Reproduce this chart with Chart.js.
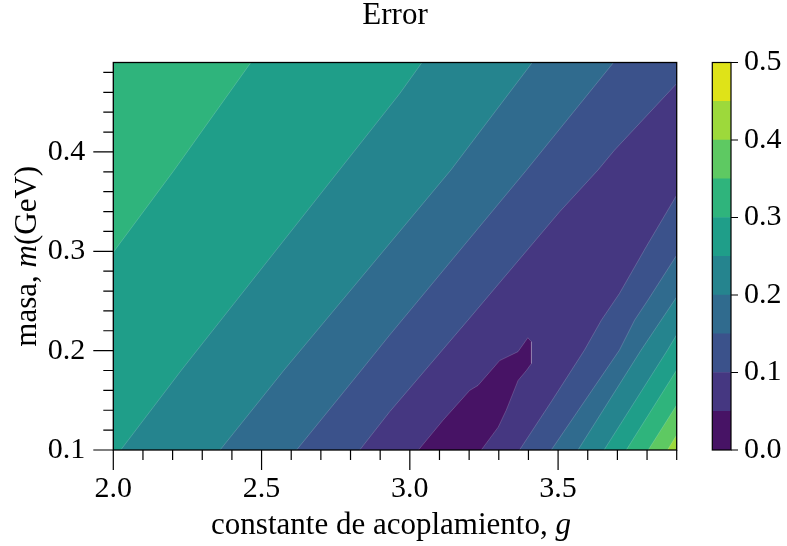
<!DOCTYPE html>
<html><head><meta charset="utf-8">
<script src="https://cdn.jsdelivr.net/npm/chart.js@4.4.0/dist/chart.umd.min.js"></script>
<style>
html,body{margin:0;padding:0;background:#fff;}
#wrap{position:relative;width:787px;height:546px;overflow:hidden;}
#main{position:absolute;left:0;top:0;}
#cbar{position:absolute;left:700px;top:0;}
</style></head><body>
<div id="wrap"><canvas id="main" width="787" height="546"></canvas><canvas id="cbar" width="87" height="546"></canvas></div>
<script>
const FONT = "'Liberation Serif', 'Times New Roman', serif";
const titleText = 'Error';
const xTitleParts = [['constante de acoplamiento, ', false], ['g', true]];
const yTitleParts = [['masa, ', false], ['m', true], ['(GeV)', false]];

const gRange = [2.0, 3.9];
const mRange = [0.1, 0.49];
const xTicks = [2.0, 2.5, 3.0, 3.5];
const xMinorTicks = [2.1, 2.2, 2.3, 2.4, 2.6, 2.7, 2.8, 2.9, 3.1, 3.2, 3.3, 3.4, 3.6, 3.7, 3.8, 3.9];
const yTicks = [0.1, 0.2, 0.3, 0.4];
const yMinorTicks = [0.12, 0.14, 0.16, 0.18, 0.22, 0.24, 0.26, 0.28, 0.32, 0.34, 0.36, 0.38, 0.42, 0.44, 0.46, 0.48];
const levels = [0.00, 0.05, 0.10, 0.15, 0.20, 0.25, 0.30, 0.35, 0.40, 0.45, 0.50];
const cbTicks = [0.0, 0.1, 0.2, 0.3, 0.4, 0.5];
const bandColors = ['#471365', '#453781', '#3b528b', '#306b8e', '#25848e', '#1f9e89', '#2fb47c', '#5ec962', '#9dd93b', '#dfe318'];

// contour lines [g, m]
// family where the error rises toward small g / large m
const left010 = [[2.831, 0.1], [2.932, 0.1385], [3.196, 0.2307], [3.505, 0.3397], [3.634, 0.3816], [3.690, 0.4017], [3.9, 0.4688]];
const left015 = [[2.618, 0.1], [2.837, 0.1805], [2.932, 0.2157], [3.393, 0.3816], [3.687, 0.49]];
const left020 = [[2.360, 0.1], [2.576, 0.1805], [3.138, 0.3816], [3.413, 0.49]];
const left025 = [[2.025, 0.1], [2.230, 0.1805], [2.966, 0.4587], [3.041, 0.49]];
const left030 = [[2.0, 0.299], [2.205, 0.3816], [2.464, 0.49]];
// family where the error rises toward large g / small m
const right010 = [[3.370, 0.1], [3.480, 0.150], [3.589, 0.2006], [3.646, 0.2307], [3.707, 0.2576], [3.797, 0.3045], [3.9, 0.3565]];
const right015 = [[3.477, 0.1], [3.707, 0.2006], [3.758, 0.2307], [3.803, 0.2509], [3.9, 0.2961]];
const right020 = [[3.567, 0.1], [3.780, 0.2006], [3.9, 0.254]];
const right025 = [[3.655, 0.1], [3.869, 0.2006], [3.9, 0.216]];
const right030 = [[3.730, 0.1], [3.9, 0.1805]];
const right035 = [[3.804, 0.1], [3.9, 0.1453]];
const right040 = [[3.869, 0.1], [3.9, 0.1151]];
// valley where the error is below 0.05
const valley005 = [[3.029, 0.1], [3.112, 0.130], [3.202, 0.160], [3.230, 0.165], [3.303, 0.190], [3.365, 0.199], [3.398, 0.213], [3.410, 0.209], [3.410, 0.187], [3.393, 0.180], [3.365, 0.170], [3.325, 0.140], [3.298, 0.123], [3.241, 0.1]];

function closeUpperLeft(line) {
  const pts = line.slice();
  const start = pts[0], end = pts[pts.length - 1];
  if (end[0] >= gRange[1]) pts.push([gRange[1], mRange[1]]);
  pts.push([gRange[0], mRange[1]]);
  if (start[1] <= mRange[0]) pts.push([gRange[0], mRange[0]]);
  return pts;
}
function closeLowerRight(line) {
  return line.concat([[gRange[1], mRange[0]]]);
}
const toXY = pts => pts.map(([x, y]) => ({ x, y }));

const fills = [];
fills.push({ pts: [[gRange[0], mRange[0]], [gRange[1], mRange[0]], [gRange[1], mRange[1]], [gRange[0], mRange[1]]], color: bandColors[1] });
[[left010, 0.10], [left015, 0.15], [left020, 0.20], [left025, 0.25], [left030, 0.30]].forEach(([l, lv]) =>
  fills.push({ pts: closeUpperLeft(l), color: bandColors[levels.findIndex(v => Math.abs(v - lv) < 1e-9)] }));
[[right010, 0.10], [right015, 0.15], [right020, 0.20], [right025, 0.25], [right030, 0.30], [right035, 0.35], [right040, 0.40]].forEach(([l, lv]) =>
  fills.push({ pts: closeLowerRight(l), color: bandColors[levels.findIndex(v => Math.abs(v - lv) < 1e-9)] }));
fills.push({ pts: valley005, color: bandColors[0] });

const seams = [left010, left015, left020, left025, left030, right010, right015, right020, right025, right030, right035, right040, valley005];

const datasets = [];
fills.forEach((f, i) => datasets.push({
  data: toXY(f.pts), backgroundColor: f.color, borderColor: f.color, borderWidth: 0,
  fill: 'shape', pointRadius: 0, pointHoverRadius: 0, tension: 0, order: 1000 - i
}));
seams.forEach(s => datasets.push({
  data: toXY(s), borderColor: 'rgba(255,255,255,0.22)', borderWidth: 0.8,
  fill: false, pointRadius: 0, pointHoverRadius: 0, tension: 0, order: 0
}));

function drawMixed(ctx, parts, size, cx, cy, rot) {
  ctx.save();
  ctx.translate(cx, cy);
  ctx.rotate(rot);
  ctx.fillStyle = '#000';
  ctx.textAlign = 'left';
  ctx.textBaseline = 'alphabetic';
  let total = 0;
  const ws = parts.map(([t, it]) => {
    ctx.font = (it ? 'italic ' : '') + size + 'px ' + FONT;
    const w = ctx.measureText(t).width; total += w; return w;
  });
  let xx = -total / 2;
  parts.forEach(([t, it], i) => {
    ctx.font = (it ? 'italic ' : '') + size + 'px ' + FONT;
    ctx.fillText(t, xx, 0);
    xx += ws[i];
  });
  ctx.restore();
}

const decor = {
  id: 'decor',
  afterDraw(chart) {
    const { ctx, chartArea: a, scales: { x, y } } = chart;
    ctx.save();
    ctx.strokeStyle = '#000';
    ctx.lineWidth = 1.2;
    ctx.beginPath();
    xTicks.forEach(v => { const p = x.getPixelForValue(v); ctx.moveTo(p, a.bottom); ctx.lineTo(p, a.bottom + 20); });
    xMinorTicks.forEach(v => { const p = x.getPixelForValue(v); ctx.moveTo(p, a.bottom); ctx.lineTo(p, a.bottom + 10); });
    yTicks.forEach(v => { const p = y.getPixelForValue(v); ctx.moveTo(a.left, p); ctx.lineTo(a.left - 20, p); });
    yMinorTicks.forEach(v => { const p = y.getPixelForValue(v); ctx.moveTo(a.left, p); ctx.lineTo(a.left - 10, p); });
    ctx.stroke();
    ctx.lineWidth = 1.3;
    ctx.strokeRect(a.left, a.top, a.right - a.left, a.bottom - a.top);
    ctx.restore();
    drawMixed(ctx, xTitleParts, 31, (a.left + a.right) / 2 - 4, 534, 0);
    drawMixed(ctx, yTitleParts, 31, 36, (a.top + a.bottom) / 2, -Math.PI / 2);
  }
};

Chart.defaults.color = '#000';

new Chart(document.getElementById('main'), {
  type: 'line',
  data: { datasets },
  options: {
    responsive: false, animation: false, events: [],
    layout: { padding: { left: 0, right: 110.3, top: 0, bottom: 0 } },
    plugins: {
      legend: { display: false }, tooltip: { enabled: false },
      title: { display: true, text: titleText, fullSize: false, color: '#000',
        font: { family: FONT, size: 31, weight: 'normal', lineHeight: 1 }, padding: { top: 0, bottom: 31.5 } }
    },
    scales: {
      x: {
        type: 'linear', min: gRange[0], max: gRange[1],
        grid: { display: false, drawTicks: false }, border: { display: false },
        afterBuildTicks(s) { s.ticks = xTicks.map(v => ({ value: v })); },
        afterFit(s) { s.height = 96; },
        ticks: { autoSkip: false, maxRotation: 0, padding: 21, font: { family: FONT, size: 30 }, callback: v => Number(v).toFixed(1) }
      },
      y: {
        type: 'linear', min: mRange[0], max: mRange[1],
        grid: { display: false, drawTicks: false }, border: { display: false },
        afterBuildTicks(s) { s.ticks = yTicks.map(v => ({ value: v })); },
        afterFit(s) { s.width = 113.3; },
        ticks: { autoSkip: false, padding: 28, font: { family: FONT, size: 30 }, callback: v => Number(v).toFixed(1) }
      }
    }
  },
  plugins: [decor]
});

const cbDecor = {
  id: 'cbDecor',
  afterDraw(chart) {
    const { ctx, chartArea: a, scales: { y } } = chart;
    ctx.save();
    ctx.strokeStyle = '#000';
    ctx.lineWidth = 1.2;
    ctx.beginPath();
    cbTicks.forEach(v => { const p = y.getPixelForValue(v); ctx.moveTo(a.right, p); ctx.lineTo(a.right + 7, p); });
    ctx.stroke();
    ctx.strokeRect(a.left, a.top, a.right - a.left, a.bottom - a.top);
    ctx.restore();
  }
};

new Chart(document.getElementById('cbar'), {
  type: 'bar',
  data: {
    labels: [''],
    datasets: bandColors.map((c, i) => ({
      data: [[levels[i], levels[i + 1]]], backgroundColor: c, borderWidth: 0,
      barPercentage: 1, categoryPercentage: 1, grouped: false
    }))
  },
  options: {
    responsive: false, animation: false, events: [],
    layout: { padding: { left: 12.3, right: 0, top: 62.5, bottom: 96 } },
    plugins: { legend: { display: false }, tooltip: { enabled: false } },
    scales: {
      x: { display: false },
      y: {
        position: 'right', min: levels[0], max: levels[levels.length - 1],
        grid: { display: false, drawTicks: false }, border: { display: false },
        afterBuildTicks(s) { s.ticks = cbTicks.map(v => ({ value: v })); },
        afterFit(s) { s.width = 56; },
        ticks: { autoSkip: false, padding: 13, font: { family: FONT, size: 30 }, callback: v => Number(v).toFixed(1) }
      }
    }
  },
  plugins: [cbDecor]
});
</script>
</body></html>
